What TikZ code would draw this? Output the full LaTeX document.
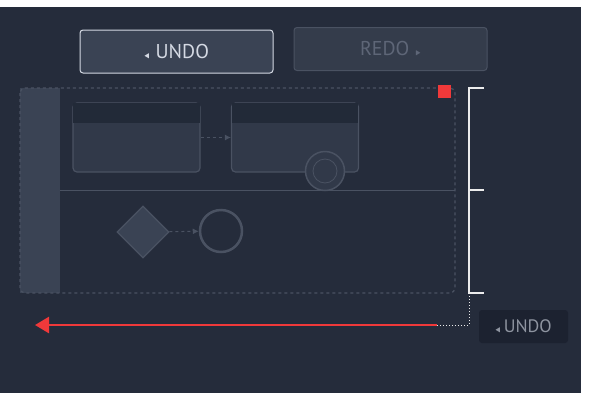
\documentclass[tikz,border=0pt]{standalone}
\usepackage{amssymb}
\usepackage{fontspec}
\setmainfont{PT Sans}
\usetikzlibrary{positioning,arrows.meta,shapes.geometric,calc}
\definecolor{bgdark}{HTML}{252C3B}
\definecolor{btnfill}{HTML}{3A4354}
\definecolor{btntext}{HTML}{D4D9E3}
\definecolor{offfill}{HTML}{343C4B}
\definecolor{offtext}{HTML}{5E6677}
\definecolor{shapeline}{HTML}{4A5262}
\definecolor{taskfill}{HTML}{313949}
\definecolor{taskhead}{HTML}{222A38}
\definecolor{tagfill}{HTML}{1C2230}
\definecolor{redmark}{HTML}{F0393A}
\tikzstyle{button} = [rectangle, rounded corners=3pt, minimum width=193pt, minimum height=43pt, font=\fontsize{20}{20}\selectfont]
\tikzstyle{task} = [rectangle, rounded corners=4pt, draw=shapeline, fill=taskfill, line width=1.2pt, minimum width=127pt, minimum height=69pt]
\tikzstyle{flow} = [-{Latex[length=6pt,width=6pt]}, dashed, shapeline, line width=1pt]
\tikzstyle{bracket} = [white!85!gray, line width=1.2pt]
\begin{document}
\begin{tikzpicture}[x=1pt, y=-1pt]
    % Frame
    \fill[white] (0,0) rectangle (600,400);
    \fill[bgdark] (0,7) rectangle (581,393);
    % Buttons
    \node[button, draw=btntext, fill=btnfill, text=btntext, line width=1pt] (undo) at (176.5,51.5) {\scalebox{0.8}[1]{\small$\blacktriangleleft$}\hspace{6pt}UNDO};
    \node[button, draw=shapeline, fill=offfill, text=offtext, line width=1pt] (redo) at (390.5,49) {REDO\hspace{6pt}\scalebox{0.8}[1]{\small$\blacktriangleright$}};
    % Pool and lanes
    \fill[btnfill] (20,88) rectangle (60,293);
    \draw[shapeline, dashed, line width=1.2pt, rounded corners=5pt] (20,88) rectangle (455,293);
    \draw[shapeline, line width=0.8pt] (60,190) -- (455,190);
    \fill[redmark] (438,85) rectangle (451,98);
    % Tasks
    \node[task] (taskA) at (136.5,137.5) {};
    \node[task] (taskB) at (295,137.5) {};
    \fill[taskhead] ([shift={(1,1)}]taskA.north west) rectangle ([shift={(-1,21)}]taskA.north east);
    \fill[taskhead] ([shift={(1,1)}]taskB.north west) rectangle ([shift={(-1,21)}]taskB.north east);
    \draw[flow] (taskA) -- (taskB);
    \node[circle, draw=shapeline, fill=taskfill, line width=1.5pt, minimum size=39pt] (timer) at (325,171) {};
    \node[circle, draw=shapeline, line width=0.8pt, minimum size=24pt] at (timer) {};
    \node[diamond, draw=shapeline, fill=btnfill, line width=1.2pt, minimum size=52pt, inner sep=0pt] (gate) at (143,232) {};
    \node[circle, draw=shapeline, line width=2.5pt, minimum size=42pt] (endev) at (221,231) {};
    \draw[flow] (gate) -- (endev);
    % Bracket
    \coordinate (btop) at (469,88);
    \coordinate (bmid) at (469,190);
    \coordinate (bbot) at (469,293);
    \draw[bracket] (484,88) -- (btop) -- (bbot) -- (484,293);
    \draw[bracket] (bmid) -- (484,190);
    % Undo trail
    \coordinate (corner) at (469,325);
    \coordinate (trail) at (437,325);
    \coordinate (tip) at (35,325);
    \draw[white!85!gray, dotted, line width=1pt] (bbot) -- (corner) -- (trail);
    \draw[redmark, line width=2.5pt, -{Triangle[length=14pt,width=16pt]}] (trail) -- (tip);
    \node[rectangle, rounded corners=3pt, fill=tagfill, text=offtext!70!white, minimum width=89pt, minimum height=33pt, font=\fontsize{18}{18}\selectfont] (undotag) at (523.5,326.5) {\scalebox{0.8}[1]{\small$\blacktriangleleft$}\hspace{3pt}UNDO};
\end{tikzpicture}
\end{document}
